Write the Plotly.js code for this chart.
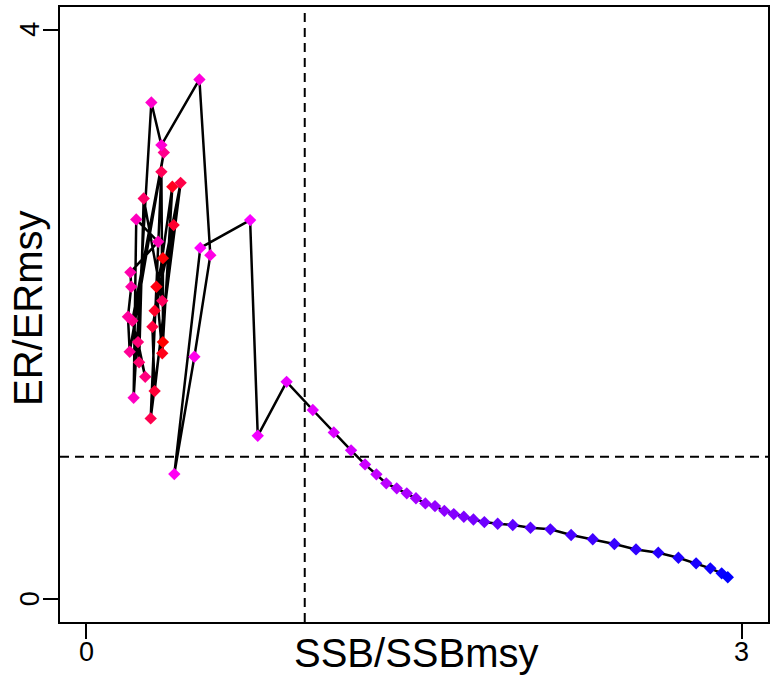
<!DOCTYPE html>
<html>
<head>
<meta charset="utf-8">
<script src="https://cdn.plot.ly/plotly-3.0.1.min.js"></script>
<style>html,body{margin:0;padding:0;background:#fff;}#chart{width:773px;height:679px;}</style>
</head>
<body>
<div id="chart"></div>
<script>
// Trajectory values, in time order
const ssbRatio = [
  0.351, 0.351, 0.321, 0.348, 0.394, 0.313, 0.400, 0.313, 0.303, 0.432,
  0.295, 0.344, 0.348, 0.263, 0.242, 0.237, 0.270, 0.211, 0.355, 0.199,
  0.191, 0.206, 0.202, 0.329, 0.229, 0.217, 0.298, 0.344, 0.518, 0.568,
  0.495, 0.403, 0.522, 0.750, 0.785, 0.917,
  1.037, 1.133, 1.212, 1.276, 1.328, 1.373, 1.421, 1.467, 1.509, 1.552,
  1.596, 1.639, 1.682, 1.728, 1.772, 1.822, 1.883, 1.952, 2.033, 2.124,
  2.219, 2.318, 2.417, 2.516, 2.618, 2.710, 2.791, 2.856, 2.908, 2.936
];
const erRatio = [
  1.806, 2.396, 2.195, 1.727, 2.897, 2.026, 2.628, 1.462, 1.914, 2.925,
  1.270, 3.002, 2.096, 2.815, 1.664, 1.806, 1.562, 1.956, 3.138, 1.738,
  1.984, 2.195, 2.296, 2.511, 2.668, 1.415, 3.489, 3.190, 3.651, 2.417,
  1.703, 0.879, 2.468, 2.663, 1.148, 1.527,
  1.329, 1.172, 1.046, 0.947, 0.877, 0.814, 0.779, 0.744, 0.709, 0.673,
  0.654, 0.621, 0.598, 0.579, 0.560, 0.542, 0.530, 0.521, 0.502, 0.491,
  0.451, 0.421, 0.388, 0.350, 0.327, 0.291, 0.252, 0.217, 0.182, 0.154
];
const xTicks = [0, 3];
const yTicks = [0, 4];
const refX = 1;
const refY = 1;

// colour ramp red -> magenta -> blue along time
const n = ssbRatio.length;
const colors = ssbRatio.map((_, i) => {
  const t = i / (n - 1);
  let r, b;
  if (t < 0.5) { r = 255; b = Math.round(255 * 2 * t); }
  else { r = Math.round(255 * (2 - 2 * t)); b = 255; }
  return `rgb(${r},0,${b})`;
});

const font = 'Liberation Sans, Arial, sans-serif';
const tickFont = {size: 27, family: font, color: '#000'};
const titleFont = {size: 40, family: font, color: '#000'};

const trace = {
  x: ssbRatio, y: erRatio, type: 'scatter', mode: 'lines+markers',
  line: {color: '#000', width: 2.5},
  marker: {symbol: 'diamond', size: 9.5, color: colors, line: {width: 0}},
  hoverinfo: 'x+y'
};

// plot area: 708 x 615 px, left 60, top 7
const pxToPaperX = px => (px - 60) / 708;
const pxToPaperY = py => (622 - py) / 615;

const tickAnnotations = [
  ...xTicks.map(v => ({text: String(v), xref: 'x', yref: 'paper', x: v, y: pxToPaperY(652),
    xanchor: 'center', yanchor: 'middle', showarrow: false, font: tickFont})),
  ...yTicks.map(v => ({text: String(v), xref: 'paper', yref: 'y', x: pxToPaperX(30), y: v,
    xanchor: 'center', yanchor: 'middle', textangle: -90, showarrow: false, font: tickFont}))
];

const layout = {
  width: 773, height: 679,
  margin: {l: 60, r: 5, t: 7, b: 57},
  paper_bgcolor: '#fff', plot_bgcolor: '#fff',
  showlegend: false,
  font: {family: font, color: '#000'},
  xaxis: {
    range: [-0.12, 3.12], tickvals: xTicks, showticklabels: false,
    ticks: 'outside', ticklen: 15, tickwidth: 2, tickcolor: '#000',
    showline: true, linecolor: '#000', linewidth: 2, mirror: true,
    showgrid: false, zeroline: false
  },
  yaxis: {
    range: [-0.16, 4.16], tickvals: yTicks, showticklabels: false,
    ticks: 'outside', ticklen: 15, tickwidth: 2, tickcolor: '#000',
    showline: true, linecolor: '#000', linewidth: 2, mirror: true,
    showgrid: false, zeroline: false
  },
  shapes: [
    {type: 'line', xref: 'x', yref: 'paper', x0: refX, x1: refX, y0: 0, y1: 1,
     line: {color: '#000', width: 2, dash: '9px,6px'}, layer: 'below'},
    {type: 'line', xref: 'paper', yref: 'y', x0: 0, x1: 1, y0: refY, y1: refY,
     line: {color: '#000', width: 2, dash: '9px,6px'}, layer: 'below'}
  ],
  annotations: [
    ...tickAnnotations,
    {text: 'SSB/SSBmsy', xref: 'paper', yref: 'paper', x: pxToPaperX(416), y: pxToPaperY(653),
     xanchor: 'center', yanchor: 'middle', showarrow: false, font: titleFont},
    {text: 'ER/ERmsy', xref: 'paper', yref: 'paper', x: pxToPaperX(28), y: pxToPaperY(308),
     xanchor: 'center', yanchor: 'middle', textangle: -90, showarrow: false, font: titleFont}
  ]
};

Plotly.newPlot('chart', [trace], layout, {staticPlot: true});
</script>
</body>
</html>
